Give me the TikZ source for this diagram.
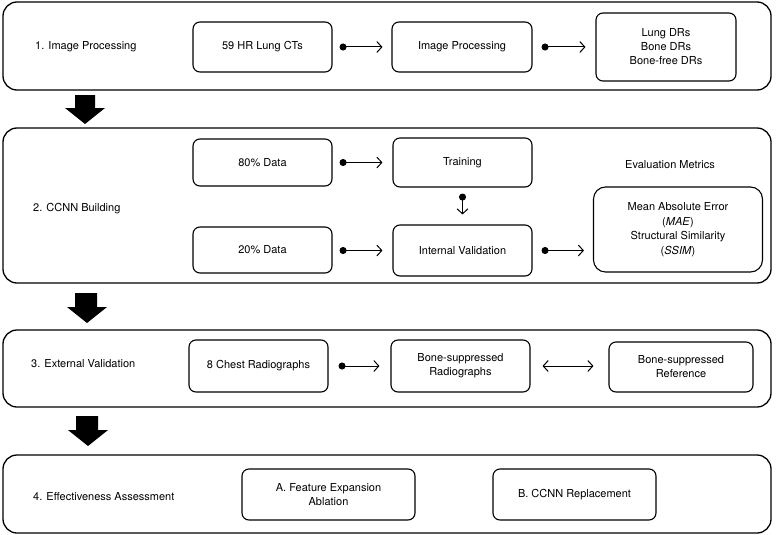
\documentclass[tikz,border=0pt]{standalone}
\usepackage{fontspec}
\setmainfont{TeX Gyre Heros}
\usetikzlibrary{arrows.meta}
\begin{document}
\begin{tikzpicture}[x=1pt,y=-1pt,
 outerbox/.style={draw, line width=1.3pt, rounded corners=14pt},
 innerbox/.style={draw, line width=1.1pt, rounded corners=7pt, align=center, inner sep=0pt,
   font=\fontsize{11}{14}\selectfont},
 lbl/.style={font=\fontsize{11}{14}\selectfont, align=center, inner sep=0pt},
 conn/.style={line width=1pt, {Circle[length=7pt]}-{Straight Barb[length=5pt,width=11pt]}},
 dconn/.style={line width=1pt, {Straight Barb[length=5pt,width=11pt]}-{Straight Barb[length=5pt,width=11pt]}},
 blockarrow/.style={fill=black}
]
\useasboundingbox (0,0) rectangle (776,535);

% outer boxes
\draw[outerbox] (3,2) rectangle (771,90);
\draw[outerbox] (3,128) rectangle (771,283);
\draw[outerbox] (3,330) rectangle (771,407);
\draw[outerbox] (3,455) rectangle (771,533);

% left labels
\node[lbl, anchor=west] (l1) at (35,47) {1. Image Processing};
\node[lbl, anchor=west] (l2) at (33,209) {2. CCNN Building};
\node[lbl, anchor=west] (l3) at (31,364) {3. External Validation};
\node[lbl, anchor=west] (l4) at (33,497) {4. Effectiveness Assessment};

% row 1
\node[innerbox, minimum width=139pt, minimum height=50pt] (ct) at (262.5,47) {59 HR Lung CTs};
\node[innerbox, minimum width=140pt, minimum height=50pt] (ip) at (462,47) {Image Processing};
\node[innerbox, minimum width=140pt, minimum height=68pt] (dr) at (666,47) {Lung DRs\\Bone DRs\\Bone-free DRs};
\draw[conn, shorten <=7pt, shorten >=9pt] (ct.east) -- (ip.west);
\draw[conn, shorten <=9pt, shorten >=10pt] (ip.east) -- (dr.west);

% row 2
\node[innerbox, minimum width=139pt, minimum height=47pt] (d80) at (262.5,162.5) {80\% Data};
\node[innerbox, minimum width=139pt, minimum height=49pt] (tr) at (462.5,162.5) {Training};
\node[innerbox, minimum width=139pt, minimum height=46pt] (d20) at (262.5,250) {20\% Data};
\node[innerbox, minimum width=139pt, minimum height=51pt] (iv) at (462.5,250.5) {Internal Validation};
\node[innerbox, minimum width=169pt, minimum height=85pt, rounded corners=12pt,
  font=\fontsize{11}{14.5}\selectfont] (ev) at (678,229.5)
  {Mean Absolute Error\\(\textit{MAE})\\Structural Similarity\\(\textit{SSIM})};
\node[lbl] (evt) at (670,165) {Evaluation Metrics};
\draw[conn, shorten <=7pt, shorten >=10pt] (d80.east) -- (tr.west);
\draw[conn, shorten <=6pt, shorten >=10pt] (tr.south) -- (iv.north);
\draw[conn, shorten <=7pt, shorten >=10pt] (d20.east |- iv.west) -- (iv.west);
\draw[conn, shorten <=9pt, shorten >=9pt] (iv.east) -- (ev.west |- iv.east);

% row 3
\node[innerbox, minimum width=139pt, minimum height=52pt] (cr) at (258.5,366) {8 Chest Radiographs};
\node[innerbox, minimum width=139pt, minimum height=52pt] (bs) at (460.5,366) {Bone-suppressed\\Radiographs};
\node[innerbox, minimum width=144pt, minimum height=50pt] (ref) at (681,367) {Bone-suppressed\\Reference};
\draw[conn, shorten <=10pt, shorten >=11pt] (cr.east) -- (bs.west);
\draw[dconn, shorten <=12pt, shorten >=15pt] (bs.east) -- (ref.west |- bs.east);

% row 4
\node[innerbox, minimum width=173pt, minimum height=51pt] (fa) at (328.5,494.5) {A. Feature Expansion\\Ablation};
\node[innerbox, minimum width=163pt, minimum height=51pt] (cc) at (574.5,494.5) {B. CCNN Replacement};

% block arrows
\fill[blockarrow] (75,95) -- (95,95) -- (95,108) -- (105,108) -- (85,124) -- (65,108) -- (75,108) -- cycle;
\fill[blockarrow] (75,293) -- (97,293) -- (97,307) -- (107,307) -- (87,323) -- (67,307) -- (75,307) -- cycle;
\fill[blockarrow] (76,416) -- (98,416) -- (98,430) -- (108,430) -- (88,446) -- (68,430) -- (76,430) -- cycle;
\end{tikzpicture}
\end{document}
